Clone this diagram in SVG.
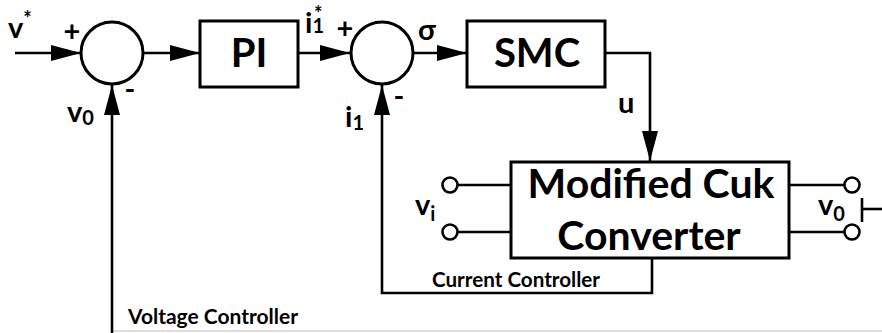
<svg xmlns="http://www.w3.org/2000/svg" width="882" height="333" viewBox="0 0 882 333">
<defs>
<style>
.blk{fill:#fff;stroke:#000;stroke-width:3}
.ln{fill:none;stroke:#000;stroke-width:2.6}
.term{fill:#fff;stroke:#000;stroke-width:2.6}
.t{font-family:Lato,"Open Sans",sans-serif;font-weight:bold;fill:#000}
.big{font-size:41px}
.med{font-size:40px}
.lab{font-size:29px}
.sub{font-size:20px}
.small{font-size:20px}
</style>
<marker id="ah" viewBox="0 0 30 16" refX="30" refY="8" markerWidth="30" markerHeight="16" markerUnits="userSpaceOnUse" orient="auto">
<path d="M0,0 L30,8 L0,16 Z" fill="#000"/>
</marker>
</defs>
<rect width="882" height="333" fill="#fff"/>
<line x1="112" y1="331" x2="882" y2="331" stroke="#d0d0d0" stroke-width="1.5"/>

<g id="connectors">
<line class="ln" x1="15" y1="53" x2="81" y2="53" marker-end="url(#ah)"/>
<line class="ln" x1="144" y1="53" x2="200" y2="53" marker-end="url(#ah)"/>
<line class="ln" x1="298" y1="53" x2="350" y2="53" marker-end="url(#ah)"/>
<line class="ln" x1="414" y1="53" x2="467" y2="53" marker-end="url(#ah)"/>
<polyline class="ln" points="605,53 650,53 650,161" marker-end="url(#ah)"/>
<polyline class="ln" points="652,258 652,293 382,293 382,85" marker-end="url(#ah)"/>
<line class="ln" x1="112" y1="333" x2="112" y2="85" marker-end="url(#ah)"/>
<line class="ln" x1="458" y1="185" x2="511" y2="185"/>
<line class="ln" x1="458" y1="232" x2="511" y2="232"/>
<line class="ln" x1="789" y1="185" x2="845" y2="185"/>
<line class="ln" x1="789" y1="232" x2="845" y2="232"/>
<line class="ln" x1="862" y1="198" x2="862" y2="222"/>
<line class="ln" x1="862" y1="209" x2="882" y2="209"/>
</g>

<g id="sum1">
<circle class="blk" cx="112" cy="53" r="31"/>
<text class="t lab" x="72" y="41" text-anchor="middle">+</text>
<text class="t lab" x="130" y="99" text-anchor="middle">-</text>
</g>
<g id="sum2">
<circle class="blk" cx="382" cy="53" r="31"/>
<text class="t lab" x="345" y="38" text-anchor="middle">+</text>
<text class="t lab" x="399" y="106" text-anchor="middle">-</text>
</g>
<g id="pi">
<rect class="blk" x="200" y="21" width="98" height="66"/>
<text class="t med" x="249" y="67" text-anchor="middle">PI</text>
</g>
<g id="smc">
<rect class="blk" x="467" y="21" width="138" height="66"/>
<text class="t med" x="537" y="67" text-anchor="middle">SMC</text>
</g>
<g id="converter">
<rect class="blk" x="511" y="162" width="278" height="96"/>
<text class="t big" x="651" y="198" text-anchor="middle">Modified Cuk</text>
<text class="t big" x="649" y="250" text-anchor="middle">Converter</text>
</g>
<g id="terminals">
<circle class="term" cx="450" cy="185" r="7.5"/>
<circle class="term" cx="450" cy="232" r="7.5"/>
<circle class="term" cx="852" cy="185" r="7.5"/>
<circle class="term" cx="852" cy="232" r="7.5"/>
</g>

<g id="labels">
<text class="t lab" x="8" y="38">v<tspan class="sub" dy="-12">*</tspan></text>
<text class="t lab" x="67" y="122">v<tspan class="sub" dy="3">0</tspan></text>
<text class="t lab" x="305" y="33">i<tspan class="sub">1</tspan><tspan class="sub" dx="-10" dy="-12">*</tspan></text>
<text class="t lab" x="418" y="40">σ</text>
<text class="t lab" x="345" y="127">i<tspan class="sub" dy="3">1</tspan></text>
<text class="t lab" x="618" y="113">u</text>
<text class="t lab" x="415" y="215">v<tspan class="sub" dy="6">i</tspan></text>
<text class="t lab" x="818" y="215">v<tspan class="sub" dy="6">0</tspan></text>
<text class="t small" x="432" y="287" textLength="168" lengthAdjust="spacingAndGlyphs">Current Controller</text>
<text class="t small" x="128" y="324" textLength="170" lengthAdjust="spacingAndGlyphs">Voltage Controller</text>
</g>
</svg>
